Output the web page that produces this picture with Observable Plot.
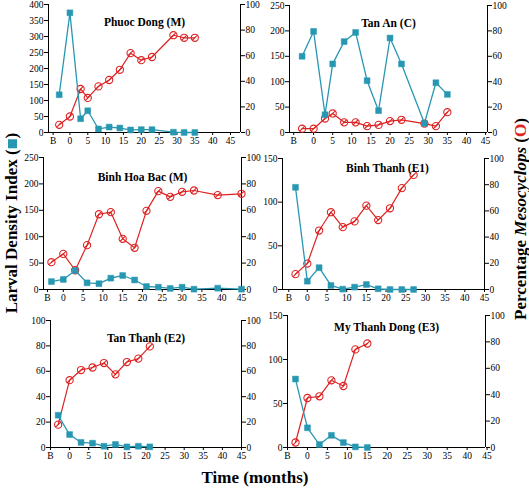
<!DOCTYPE html>
<html>
<head>
<meta charset="utf-8">
<script src="https://cdn.jsdelivr.net/npm/d3@7"></script>
<script src="https://cdn.jsdelivr.net/npm/@observablehq/plot@0.6"></script>
<style>
  body { margin: 0; background: #fff; }
  #chart { position: relative; width: 529px; height: 490px; background: #fff; overflow: hidden;
           font-family: "Liberation Serif", "Times New Roman", serif; color: #000; }
  .lab { position: absolute; white-space: nowrap; font-weight: bold; font-size: 17px; }
</style>
</head>
<body>
<div id="chart"></div>
<script>
// ---------- data ----------
const siteNames = ["Phuoc Dong (M)", "Tan An (C)", "Binh Hoa Bac (M)", "Binh Thanh (E1)", "Tan Thanh (E2)", "My Thanh Dong (E3)"];
const xTickLabels = ["B", 0, 5, 10, 15, 20, 25, 30, 35, 40, 45];
const pctTicks = [0, 20, 40, 60, 80, 100];

const timePD   = ["B", 0, 3, 5, 8, 11, 14, 17, 20, 23, 29, 32, 35];
const larvalPD = [118, 374, 43, 68, 11, 17, 14, 8, 9, 9, 1, 0, 0];
const pctPD    = [6, 12.5, 34, 27, 36, 41, 49, 62, 56.5, 59, 76, 74, 74];

const timeTA   = ["B", 0, 3, 5, 8, 11, 14, 17, 20, 23, 29, 32, 35];
const larvalTA = [150, 199, 35, 135, 179, 197, 102, 43, 186, 135, 18, 98, 75];
const pctTA    = [3, 3, 11, 15, 8, 8, 5, 6, 9, 10, 7, 5, 16];

const timeBHB   = ["B", 0, 3, 6, 9, 12, 15, 18, 21, 24, 27, 30, 33, 39, 45];
const larvalBHB = [15, 19, 36, 12.6, 11, 21.5, 26.5, 18, 5.7, 4.4, 2, 4.4, 0.6, 2.5, 0.6];
const pctBHB    = [20.7, 27, 14.6, 33.6, 57, 58.6, 38.4, 31.6, 59.6, 74.5, 70.2, 74, 75, 71.5, 72.5];

const timeBT   = ["B", 0, 3, 6, 9, 12, 15, 18, 21, 24, 27];
const larvalBT = [117, 9.5, 25, 4.6, 0.4, 2.7, 5.7, 0.8, 0, 0, 0];
const pctBT    = [11.7, 19.8, 45, 59, 47.6, 52, 64, 53, 62, 77.4, 87.5];

const timeTT   = ["B", 0, 3, 6, 9, 12, 15, 18, 21];
const larvalTT = [25.4, 10.2, 4, 3.4, 1, 2.4, 0.5, 1, 0.5];
const pctTT    = [18, 53, 61, 63, 66.5, 57.6, 67.3, 70, 79.6];

const timeMTD   = ["B", 0, 3, 6, 9, 12, 15];
const larvalMTD = [77.8, 22.4, 3.4, 13.8, 5.6, 0.7, 0];
const pctMTD    = [3.8, 37.5, 38.8, 50.9, 46.6, 74.3, 78.8];

const larvalMax  = [400, 250, 250, 150, 100, 150];
const larvalStep = [50, 50, 50, 50, 20, 50];

// ---------- layout ----------
const TEAL = "#2797b2";
const RED = "#dd2222";
const BASE_X = -3; // where the baseline "B" observation sits on the month axis

const layout = [
  {L: 48,  R: 240, T: 4,   B: 132, xdom: [-6, 47.8],  bx: -4.7, tdy: 13, tdx: 0},
  {L: 289, R: 487, T: 5,   B: 132, xdom: [-6.3, 45.5], bx: -5.2, tdy: 13, tdx: 0},
  {L: 43,  R: 241, T: 157, B: 289, xdom: [-5, 45],    bx: -4,   tdy: 15, tdx: 0},
  {L: 282, R: 484, T: 158, B: 289, xdom: [-6.3, 45],  bx: -4.7, tdy: 5,  tdx: 4},
  {L: 50,  R: 241, T: 320, B: 447, xdom: [-5, 45],    bx: -5,   tdy: 13, tdx: 0},
  {L: 287, R: 485, T: 315, B: 447, xdom: [-5, 44.6],  bx: -5,   tdy: 7,  tdx: 0}
];

const series = [
  [timePD, larvalPD, pctPD],
  [timeTA, larvalTA, pctTA],
  [timeBHB, larvalBHB, pctBHB],
  [timeBT, larvalBT, pctBT],
  [timeTT, larvalTT, pctTT],
  [timeMTD, larvalMTD, pctMTD]
];

const slashCircle = {
  draw(ctx, size) {
    const r = Math.sqrt(size / Math.PI);
    ctx.moveTo(r, 0);
    ctx.arc(0, 0, r, 0, 2 * Math.PI);
    const a = r * 0.72;
    ctx.moveTo(-a, a);
    ctx.lineTo(a, -a);
  }
};

const chart = document.getElementById("chart");

series.forEach(([time, larval, pct], i) => {
  const f = layout[i];
  const lmax = larvalMax[i];
  const k = lmax / 100;
  const ml = 32, mr = 32, mt = 6, mb = 22;
  const rows = time.map((t, j) => ({x: t === "B" ? BASE_X : t, larval: larval[j], pct: pct[j]}));
  const xticks = xTickLabels.map(t => t === "B" ? f.bx : t);
  const svg = Plot.plot({
    width: f.R - f.L + ml + mr,
    height: f.B - f.T + mt + mb,
    marginLeft: ml, marginRight: mr, marginTop: mt, marginBottom: mb,
    style: {fontFamily: "'Liberation Serif', 'Times New Roman', serif", fontSize: "9.5px", background: "transparent", color: "#000", overflow: "visible"},
    x: {domain: f.xdom},
    y: {domain: [0, lmax]},
    marks: [
      Plot.axisX({ticks: xticks, tickFormat: d => d === f.bx ? "B" : d, tickSize: 3, tickPadding: 2, label: null}),
      Plot.axisY({ticks: d3.range(0, lmax + 0.001, larvalStep[i]), tickSize: 4, tickPadding: 1, label: null}),
      Plot.axisY({anchor: "right", ticks: pctTicks.map(p => p * k), tickFormat: d => Math.round(d / k), tickSize: 4, tickPadding: 1, label: null}),
      Plot.ruleY([0], {stroke: "#000"}),
      Plot.ruleX([f.xdom[0], f.xdom[1]], {stroke: "#000"}),
      Plot.line(rows, {x: "x", y: d => d.pct * k, stroke: RED, strokeWidth: 1.2}),
      Plot.dot(rows, {x: "x", y: d => d.pct * k, r: 3.6, symbol: slashCircle, fill: "none", stroke: RED, strokeWidth: 1.1}),
      Plot.line(rows, {x: "x", y: "larval", stroke: TEAL, strokeWidth: 1.3}),
      Plot.dot(rows, {x: "x", y: "larval", r: 3.3, symbol: "square", fill: TEAL, stroke: TEAL, strokeWidth: 0.5}),
      Plot.text([siteNames[i]], {frameAnchor: "top", dy: f.tdy, dx: f.tdx, fontWeight: "bold", fontSize: 11.5, fill: "#000"})
    ]
  });
  svg.style.position = "absolute";
  svg.style.left = (f.L - ml) + "px";
  svg.style.top = (f.T - mt) + "px";
  chart.appendChild(svg);
});

// outer labels
function addLabel(html, cx, cy, rotate) {
  const d = document.createElement("div");
  d.className = "lab";
  d.innerHTML = html;
  d.style.left = cx + "px";
  d.style.top = cy + "px";
  d.style.transform = "translate(-50%, -50%)" + (rotate ? " rotate(-90deg)" : "");
  chart.appendChild(d);
}
addLabel(`Larval Density Index (<span style="display:inline-block;width:9px;height:9px;background:${TEAL};margin:0 1px"></span>)`, 12, 223, true);
addLabel(`Percentage <i>Mesocyclops</i> (<span style="color:${RED}">O</span>)`, 521, 219, true);
addLabel(`Time (months)`, 255, 478, false);
</script>
</body>
</html>
